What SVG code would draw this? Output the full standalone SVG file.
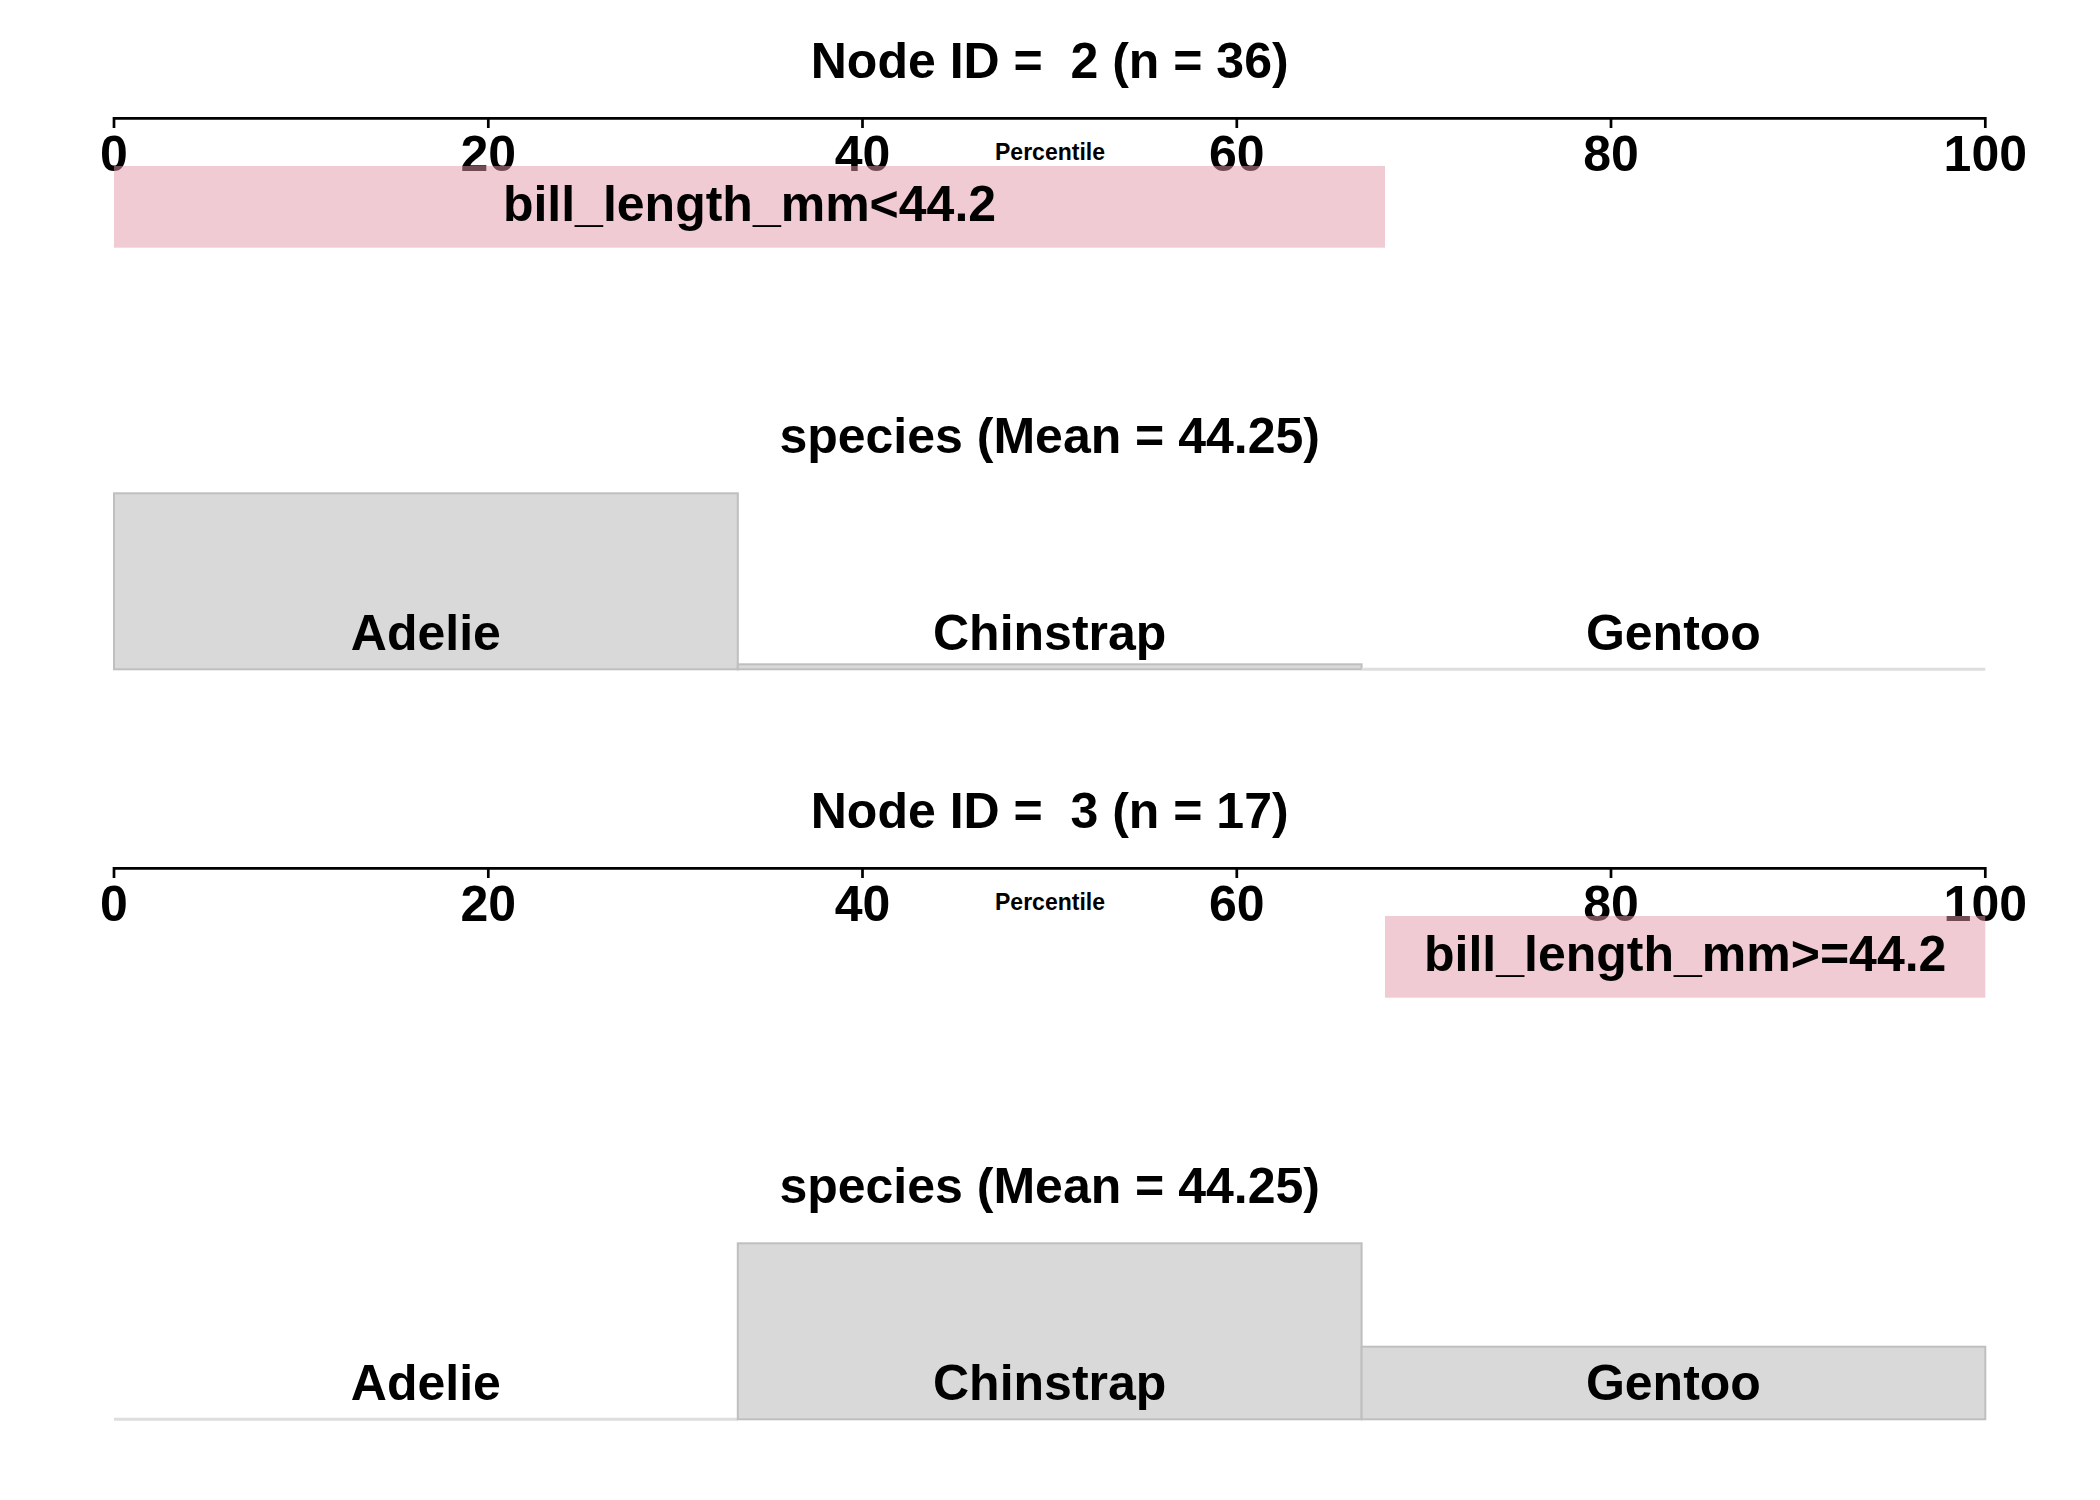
<svg xmlns="http://www.w3.org/2000/svg" width="2100" height="1500" viewBox="0 0 2100 1500">
<style>
text{font-family:"Liberation Sans",Arial,sans-serif;font-weight:bold;fill:#000;text-anchor:middle;white-space:pre}
.big{font-size:50px}
.small{font-size:23px}
.axis{stroke:#000;stroke-width:2.7;fill:none}
.split{fill:rgb(227,151,167);fill-opacity:0.5}
.bar{fill:#D9D9D9;stroke:#BFBFBF;stroke-width:2}
.zero{stroke:#DEDEDE;stroke-width:3}
</style>
<rect width="2100" height="1500" fill="#fff"/>

<g id="node2">
  <text class="big" x="1049.7" y="77.5" xml:space="preserve">Node ID =  2 (n = 36)</text>
  <path class="axis" d="M114,128 V118.3 H1985.3 V128 M488.3,118.3 V128 M862.5,118.3 V128 M1236.8,118.3 V128 M1611,118.3 V128"/>
  <text class="big" x="114" y="171">0</text>
  <text class="big" x="488.3" y="171">20</text>
  <text class="big" x="862.5" y="171">40</text>
  <text class="big" x="1236.8" y="171">60</text>
  <text class="big" x="1611" y="171">80</text>
  <text class="big" x="1985.3" y="171">100</text>
  <text class="small" x="1050" y="160">Percentile</text>
  <rect class="split" x="114" y="166" width="1271" height="81.7"/>
  <text class="big" x="749.5" y="221">bill_length_mm&lt;44.2</text>
</g>

<g id="node2-species">
  <text class="big" x="1049.7" y="452.7">species (Mean = 44.25)</text>
  <rect class="bar" x="114" y="493.3" width="623.8" height="176"/>
  <rect class="bar" x="737.8" y="664.3" width="623.8" height="5"/>
  <line class="zero" x1="1361.6" y1="669.3" x2="1985.3" y2="669.3"/>
  <text class="big" x="425.9" y="650">Adelie</text>
  <text class="big" x="1049.7" y="650">Chinstrap</text>
  <text class="big" x="1673.4" y="650">Gentoo</text>
</g>

<g id="node3">
  <text class="big" x="1049.7" y="827.5" xml:space="preserve">Node ID =  3 (n = 17)</text>
  <path class="axis" d="M114,878 V868.3 H1985.3 V878 M488.3,868.3 V878 M862.5,868.3 V878 M1236.8,868.3 V878 M1611,868.3 V878"/>
  <text class="big" x="114" y="921">0</text>
  <text class="big" x="488.3" y="921">20</text>
  <text class="big" x="862.5" y="921">40</text>
  <text class="big" x="1236.8" y="921">60</text>
  <text class="big" x="1611" y="921">80</text>
  <text class="big" x="1985.3" y="921">100</text>
  <text class="small" x="1050" y="910">Percentile</text>
  <rect class="split" x="1385" y="916" width="600.3" height="81.7"/>
  <text class="big" x="1685.2" y="971">bill_length_mm&gt;=44.2</text>
</g>

<g id="node3-species">
  <text class="big" x="1049.7" y="1202.7">species (Mean = 44.25)</text>
  <line class="zero" x1="114" y1="1419.3" x2="737.8" y2="1419.3"/>
  <rect class="bar" x="737.8" y="1243.3" width="623.8" height="176"/>
  <rect class="bar" x="1361.6" y="1346.7" width="623.7" height="72.6"/>
  <text class="big" x="425.9" y="1400">Adelie</text>
  <text class="big" x="1049.7" y="1400">Chinstrap</text>
  <text class="big" x="1673.4" y="1400">Gentoo</text>
</g>

<g id="connectors"/>
</svg>
